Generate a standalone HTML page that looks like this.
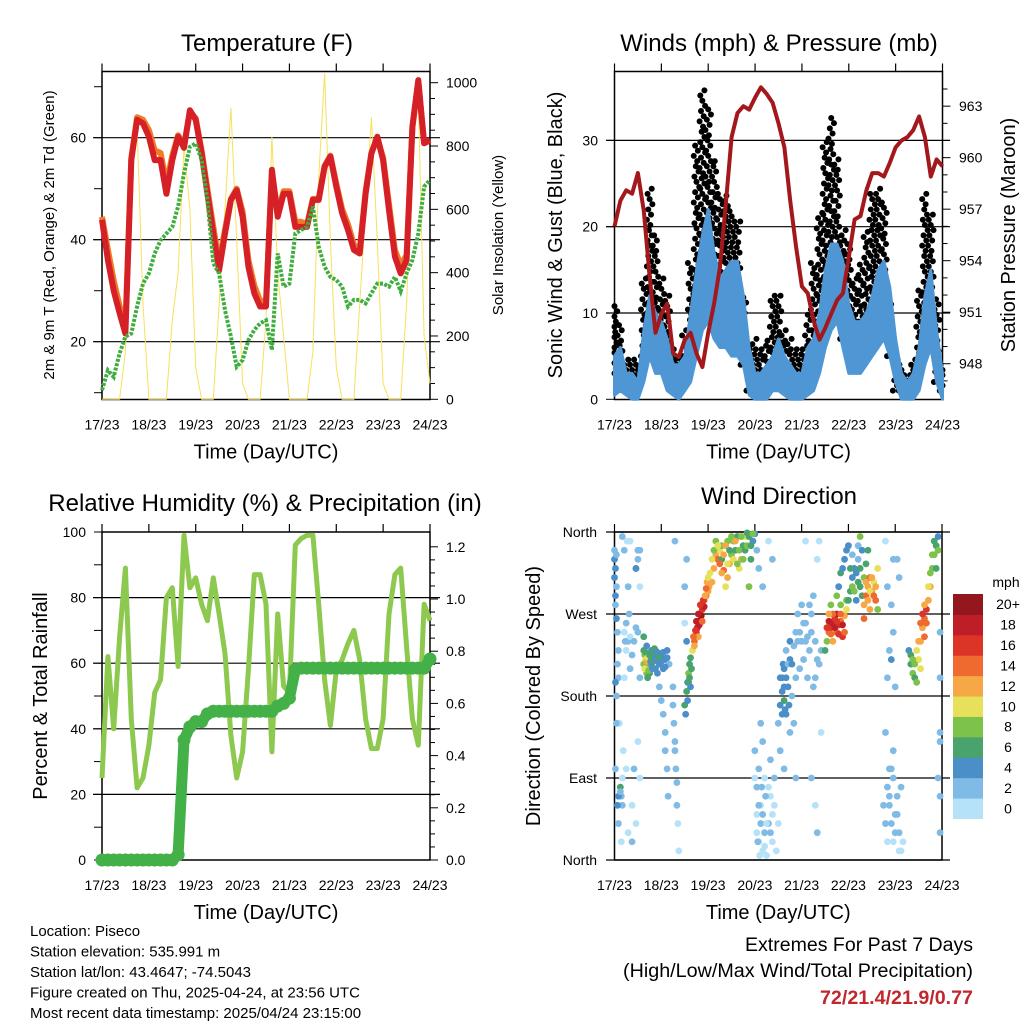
<!DOCTYPE html>
<html><head><meta charset="utf-8"><style>
html,body{margin:0;padding:0;background:#fff;}
svg{display:block;font-family:"Liberation Sans",Arial,sans-serif;}
</style></head><body>
<svg id="c" width="1024" height="1024" viewBox="0 0 1024 1024" xmlns="http://www.w3.org/2000/svg"></svg>
<script>
// ===== DATA (3-hourly, t = 0..168 h) =====
const days = ["17/23","18/23","19/23","20/23","21/23","22/23","23/23","24/23"];
const tempRed = [43.9,36,30,25.6,21.6,55.6,63.5,62.8,60.2,55.6,55.6,49,55.6,60.2,58,65.4,63.5,57,49,41.2,34,41.2,47.8,49.7,44.5,34.7,29.5,26.9,26.9,53.7,44.5,49,49,42.5,42.5,42.5,47.8,47.8,54.3,56.3,50.4,45.2,41.9,38,37.3,49,56.9,60.2,55.6,45.8,36.7,33.4,36,62.2,71.3,58.9,59.5];
const tempOrange = [44.5,38,32,27,23,56,64,63.5,61.5,57.5,57,51,56.5,60.5,58.5,65,63.8,57.5,50,42.5,35.5,42,48,50,45.5,36,31,28,28,53,45.5,49.5,49.5,43.5,43.5,43,48,48,54.5,56.5,51,46,43,39,38,49.5,57,60,56,47,38,35,37,62,71,59,59.5];
const dewGreen = [10.5,14.4,13.1,17.7,21,21.6,26.9,31.4,33.4,37.3,39.9,41.2,42.5,46.5,53,58.2,58.9,55.6,47.8,35.4,33.4,26.2,21,15.1,16.4,20.3,22.3,23.6,24.2,18.4,37.3,30.8,31.4,41.2,41.9,42.5,46.5,38.6,34.7,32.7,32.1,30.8,26.9,28.2,28.2,27.5,29.5,31.4,31.4,30.8,32.7,29.9,33.4,36,41.2,50.4,51.7];
const solar = [0,0,0,0,150,700,860,300,0,
  0,0,0,250,400,800,600,100,
  0,0,0,300,600,920,500,50,
  0,0,0,250,830,400,200,0,
  0,0,0,150,700,1030,500,100,
  0,0,0,300,600,890,500,50,
  0,0,0,300,800,950,200,50];
const pressure = [956,957.5,958.1,957.9,959.1,956.9,953.1,949.8,950.9,951.5,948.6,948.4,949.4,949.8,948.6,947.8,949.8,951.5,953.6,957.3,961.2,962.6,963,962.8,963.5,964.1,963.7,963.2,962,960.6,957.5,954.8,952.5,952.1,950.5,949.4,950.1,950.9,951.7,952.1,954.2,956.4,956.6,958.1,959.1,959.1,958.9,959.7,960.6,961,961.2,961.6,962.4,961.2,958.9,959.9,959.5];
const windHi = [5,6,3,3,2,8,12,10,9,7,4,4,5,10,15,19,22,17,14,15,16,16,12,6,3,3,4,5,7,5,4,3,3,6,7,10,15,18,18,16,11,9,9,10,12,15,16,13,7,3,2,3,6,12,15,8,3];
const windLo = [0.5,1,0.5,0,0,2,5,3,3,1,0.5,0,1,2,5,8,9,7,6,6,5,5,4,0.5,0,0,0,1,1,0.5,0,0,0,0.5,1,3,6,8,9,6,3,3,3,4,5,6,7,5,2,0,0,0,1,4,6,2,0];
const gustHi = [11,9,5,5,4,14,25,19,14,12,6,5,8,16,30,36,34,28,24,24,22,21,12,6,7,6,7,12,12,8,7,6,6,10,16,22,30,33,28,20,18,14,16,20,24,25,23,12,5,4,3,5,13,24,22,12,4];
const gustLo = [3,2,1,1,1,5,10,7,5,3,1,1,2,5,12,16,15,12,10,8,8,8,4,1,1,1,2,3,3,2,1,1,1,2,5,9,13,14,11,7,6,5,6,8,10,10,9,5,1,1,1,1,3,7,7,2,1];
const rh = [25,62,40,68,89,43,22,25,35,51,55,80,83,59,99,83,86,78,73,86,75,63,38,25,33,58,87,87,78,33,75,53,51,96,98,99,99,78,55,41,58,61,66,70,61,43,34,34,43,75,87,89,65,43,35,78,73];
const precip = [0,0,0,0,0,0,0,0,0,0,0,0,0,0.02,0.46,0.51,0.53,0.53,0.56,0.57,0.57,0.57,0.57,0.57,0.57,0.57,0.57,0.57,0.57,0.57,0.59,0.60,0.62,0.73,0.735,0.735,0.735,0.735,0.735,0.735,0.735,0.735,0.735,0.735,0.735,0.735,0.735,0.735,0.735,0.735,0.735,0.735,0.735,0.735,0.735,0.735,0.77];
// wind direction points: hour, direction (deg), speed (mph)
const dirPts = "0,340,3;0.5,320,4;1,300,3;1,265,4;1.5,250,3;2,230,3;2,200,2;2.5,150,1;3,80,6;3.5,70,3;4,60,2;4,355,2;5,340,2;5,250,1;6,230,1;6,100,1;7,30,1;7,240,3;8,210,2;8,350,1;9,60,1;9,20,2;10,100,2;11,320,3;12,330,2;13,340,2;13,300,1;11,40,1;12,250,2;13,200,3;"+
"15,230,7;15.5,225,9;16,220,11;16,210,12;16.5,205,8;17,215,10;17,200,7;17.5,225,12;18,212,9;18,205,6;15,245,6;16.5,235,5;"+
"19,215,5;20,225,6;21,230,5;21,210,4;22,220,6;23,215,5;24,225,4;25,210,5;26,220,4;27,230,4;28,215,3;19,230,4;22,205,4;"+
"30,170,2;30.5,150,2;31,130,3;31,120,2;31.5,100,2;32,85,2;32,60,2;32.5,40,1;33,10,1;30,190,2;31,350,2;"+
"36,170,6;37,185,6;37.5,195,5;38,205,8;38.5,215,7;39,222,6;37,240,4;36,300,2;37,330,2;36,260,1;"+
"40,230,10;41,240,14;42,250,16;42.5,255,18;43,262,20;43.5,258,18;44,270,17;44.5,268,20;45,275,16;46,278,18;46,285,15;47,290,14;48,295,12;48.5,300,13;41,235,12;43,245,13;"+
"50,305,12;51,320,13;52,335,12;53,330,15;54,340,10;55,345,8;56,318,14;57,300,11;58,310,13;59,325,12;60,335,9;61,350,8;62,340,7;63,355,6;64,320,10;65,330,12;66,345,7;67,355,10;68,359,7;69,300,9;70,330,6;71,350,5;72,358,4;55,330,7;58,350,9;"+
"72,120,2;73,80,2;73,50,1;74,20,1;74,100,3;75,60,1;76,10,1;77,30,2;77,90,1;78,5,1;79,40,2;80,70,1;81,20,1;82,60,1;83,10,1;73,340,2;74,320,2;76,300,2;79,350,1;81,330,2;84,40,1;75,150,3;76,130,3;"+
"84,150,3;85,170,4;86,185,4;86,200,5;87,210,4;88,230,3;88,160,4;89,190,5;90,220,5;91,180,3;92,150,3;93,200,3;94,240,2;87,175,7;85,120,3;87,100,2;90,140,3;93,90,2;95,250,2;"+
"95,210,2;96,240,2;97,220,2;98,260,2;99,200,3;100,230,2;101,250,2;102,190,2;103,60,1;104,30,2;104,330,1;101,90,2;98,350,1;103,200,3;106,230,2;105,350,1;106,140,1;"+
"108,230,6;109,240,8;110,250,14;111,255,16;112,260,18;113,265,17;114,250,15;114,270,18;115,258,16;116,262,14;117,245,16;118,268,12;119,275,10;112,240,13;116,280,9;119,285,8;"+
"120,285,7;121,295,6;122,310,5;123,320,5;124,315,4;125,330,3;126,300,7;127,290,6;128,310,8;129,325,7;130,340,6;122,335,3;125,345,3;126,355,8;"+
"128,280,13;129,290,14;130,300,12;131,310,15;132,295,13;133,305,11;134,285,14;135,320,10;131,275,12;128,265,15;"+
"140,80,2;141,60,2;142,40,2;143,20,1;144,50,2;145,70,2;146,30,2;147,10,1;141,100,3;143,120,2;145,330,2;146,310,2;139,350,1;140,300,3;142,220,4;144,190,2;143,250,2;"+
"151,230,5;152,215,7;153,205,8;154,200,6;155,195,9;156,220,10;157,240,13;158,255,12;159,265,15;160,275,16;161,285,13;162,300,12;163,320,9;164,335,8;165,345,7;166,355,5;167,250,3;167,130,2;166,90,2;167,30,2;157,210,11;159,245,14;"+
"0,330,4;0,310,5;0.5,290,5;1,335,3;0.5,280,3;1.5,215,3;0.5,195,4;1,180,2;1,150,2;0.5,100,3;1.5,60,5;2,70,4;3,75,2;2,40,2;3.5,20,1;4,90,1;4.5,120,1;5,200,1;5.5,240,2;6,260,2;6.5,350,1;7,300,2;7.5,270,2;8,245,1;9,225,2;10,240,3;11,255,3;12,130,1;13,90,1;12,340,2;11,320,4;"+
"15,215,8;15.5,210,10;16,228,7;16.5,218,13;17,222,11;17.5,208,8;18,225,6;18.5,218,5;19,222,6;19.5,210,5;20,218,7;20.5,232,6;21,220,5;22,228,5;23,222,6;24,218,4;25,228,5;26,212,4;27,222,5;"+
"23,190,3;24,175,3;25,160,2;26,140,2;26,120,2;27,100,2;27.5,70,2;"+
"38,195,7;38.5,200,6;39,190,5;39.5,210,7;37.5,175,4;36.5,160,4;"+
"40.5,245,15;41.5,252,17;42,262,19;43,270,18;44,280,16;45,262,15;45.5,285,17;46.5,290,13;47,298,14;47.5,305,12;48,310,11;49,315,10;"+
"50,330,10;51,340,8;52,350,9;53,345,11;54,325,14;55,315,12;56,335,13;57,345,12;58,325,10;59,340,7;60,355,9;61,330,11;62,350,12;63,325,8;64,340,8;65,355,9;66,330,8;67,340,7;68,345,8;69,355,7;70,345,6;71,358,8;"+
"72,90,1;73,30,1;73.5,20,2;74,60,2;74.5,5,1;75,40,2;75.5,80,2;76,50,2;77,15,1;77.5,70,2;78,40,1;79,80,1;80,30,2;80,110,2;81,50,1;82,90,2;"+
"85,200,4;86,160,4;86.5,215,4;87,190,5;87.5,165,4;88,200,4;89,215,3;89.5,170,4;90,240,4;91,215,4;92,235,3;93,250,2;94,270,2;"+
"96,280,2;97,260,2;98,240,2;99,245,2;100,280,2;101,270,2;102,290,2;103,240,2;104,220,2;105,215,2;"+
"109,255,16;110,262,18;111,248,15;112,270,15;113,255,19;114,262,17;115,248,17;116,270,14;117,258,18;118,250,15;110,270,12;111,280,9;"+
"114,290,8;115,300,5;116,315,7;117,320,4;118,330,4;119,340,4;120,345,5;121,320,7;122,300,8;123,295,8;124,285,5;125,305,6;126,320,7;127,340,4;"+
"129,305,12;130,285,13;131,295,11;132,310,12;133,290,14;134,300,13;135,275,9;"+
"138,60,2;139,40,2;140,20,1;141,70,2;142,100,2;143,90,2;144,30,2;145,50,2;146,10,1;147,80,2;148,20,1;139,140,3;140,200,3;141,230,3;142,280,2;143,330,2;"+
"152,225,6;153,220,9;154,215,8;155,230,11;156,240,12;157,260,14;158,270,16;159,280,13;160,260,15;161,300,11;162,315,8;163,335,8;164,350,6;165,320,7;166,340,9;167,200,3;167,140,2;167,70,2";
const speedColors = ["#b5e2f8","#80bbe5","#4a8fc8","#48a36d","#7dc24a","#e6e05a","#f5a845","#ef6a2e","#dc3527","#bf1e28","#93171d"];
const speedLabels = ["0","2","4","6","8","10","12","14","16","18","20+"];
const dirLabels = ["North","East","South","West","North"];

// ===== HELPERS =====
const NS="http://www.w3.org/2000/svg";
const svg=document.getElementById('c');
function mk(tag,attrs,parent){const e=document.createElementNS(NS,tag);for(const k in attrs)e.setAttribute(k,attrs[k]);(parent||svg).appendChild(e);return e;}
function txt(s,x,y,size,anchor,parent,extra){const e=mk('text',Object.assign({x:x,y:y,'font-size':size,'text-anchor':anchor||'middle',fill:'#000'},extra||{}),parent);e.textContent=s;return e;}
const T=[];for(let i=0;i<57;i++)T.push(i*3);

function panelFrame(L,R,Tp,B,name){
  const g=mk('g',{});
  
  
  mk('rect',{x:L,y:Tp,width:R-L,height:B-Tp,fill:'none',stroke:'#000','stroke-width':1.5},g);
  const xs=t=>L+t/168*(R-L);
  for(let d=0;d<8;d++){
    const x=xs(d*24);
    mk('line',{x1:x,y1:Tp-8,x2:x,y2:Tp,stroke:'#000','stroke-width':1.2},g);
    const lb=txt(days[d],x,B+30,14,'middle',g);
    
    
  }
  const xt=txt("Time (Day/UTC)",(L+R)/2,B+59,20,'middle',g);
  
  
  return {g,xs};
}
function path(pts){return pts.map((p,i)=>(i?'L':'M')+p[0].toFixed(1)+','+p[1].toFixed(1)).join('');}

// ===== PANEL 1: Temperature =====
(function(){
  const L=102,R=430,Tp=71.5,B=399.5;
  const {g,xs}=panelFrame(L,R,Tp,B,'temperature-panel');
  const ys=v=>341.7-(v-20)*5.1;
  const ysol=v=>399.3-v*0.3166;
  for(const v of [20,40,60]){mk('line',{x1:93,y1:ys(v),x2:440,y2:ys(v),stroke:'#000','stroke-width':1.2},g);
    const l=txt(String(v),86,ys(v)+5,14,'end',g);}
  for(let v=10;v<=70;v+=10)mk('line',{x1:94,y1:ys(v),x2:L,y2:ys(v),stroke:'#000'},g);
  for(let v=0;v<=1000;v+=50){const y=ysol(v);mk('line',{x1:R,y1:y,x2:R+(v%200==0?8:5),y2:y,stroke:'#000'},g);
    if(v%200==0){const l=txt(String(v),446,y+5,14,'start',g);}}
  const sl=mk('path',{d:path(T.map((t,i)=>[xs(t),ysol(solar[i])])),fill:'none',stroke:'#f7e05c','stroke-width':1},g);
  
  const o=mk('path',{d:path(T.map((t,i)=>[xs(t),ys(tempOrange[i])])),fill:'none',stroke:'#f07a28','stroke-width':6,'stroke-linejoin':'round'},g);
  
  const r=mk('path',{d:path(T.map((t,i)=>[xs(t),ys(tempRed[i])])),fill:'none',stroke:'#d42026','stroke-width':6,'stroke-linejoin':'round'},g);
  
  const d=mk('path',{d:path(T.map((t,i)=>[xs(t),ys(dewGreen[i])])),fill:'none',stroke:'#3fae3f','stroke-width':4,'stroke-dasharray':'3 1.5'},g);
  
  const tt=txt("Temperature (F)",267,51,24,'middle',g);
  const yt=txt("2m & 9m T (Red, Orange) & 2m Td (Green)",0,0,15,'middle',g,{transform:'translate(54,235) rotate(-90)'});
  const y2=txt("Solar Insolation (Yellow)",0,0,15,'middle',g,{transform:'translate(503,235) rotate(-90)'});
})();

// ===== PANEL 2: Winds & Pressure =====
(function(){
  const L=614.5,R=942.5,Tp=71.5,B=399.5;
  const {g,xs}=panelFrame(L,R,Tp,B,'winds-pressure-panel');
  const ys=v=>399.3-v*8.63;
  const yp=v=>312.2-(v-951)*17.17;
  for(const v of [10,20,30]){mk('line',{x1:606,y1:ys(v),x2:950,y2:ys(v),stroke:'#000','stroke-width':1.2},g);}
  for(const v of [0,10,20,30]){mk('line',{x1:606,y1:ys(v),x2:L,y2:ys(v),stroke:'#000'},g);
    const l=txt(String(v),598,ys(v)+5,14,'end',g);}
  for(let v=947;v<=964;v++){const y=yp(v);mk('line',{x1:R,y1:y,x2:R+((v-948)%3==0?8:5),y2:y,stroke:'#000'},g);
    if((v-948)%3==0){const l=txt(String(v),959,y+5,14,'start',g);}}
  // gust dots
  const gg=mk('g',{},g);
  const offs=[-1.4,0.7,-0.7,1.4,0,-1.05,1.05,-0.35,0.35];
  for(let i=0;i<57;i++){let k=0;for(let v=gustLo[i];v<=gustHi[i];v+=0.6){const t=Math.min(168,Math.max(0,T[i]+offs[k%9]));
    mk('circle',{cx:xs(t),cy:ys(v),r:3,fill:'#000'},gg);k++;}}
  const top=T.map((t,i)=>[xs(t),ys(windHi[i])]);const bot=T.map((t,i)=>[xs(t),ys(windLo[i])]).reverse();
  const wb=mk('path',{d:path(top.concat(bot))+'Z',fill:'#4f97d4',stroke:'#4f97d4','stroke-width':3,'stroke-linejoin':'round'},g);
  
  const pl=mk('path',{d:path(T.map((t,i)=>[xs(t),yp(pressure[i])])),fill:'none',stroke:'#a3181c','stroke-width':4,'stroke-linejoin':'round'},g);
  
  const tt=txt("Winds (mph) & Pressure (mb)",779,51,24,'middle',g);
  const yt=txt("Sonic Wind & Gust (Blue, Black)",0,0,20,'middle',g,{transform:'translate(562,235) rotate(-90)'});
  const y2=txt("Station Pressure (Maroon)",0,0,20,'middle',g,{transform:'translate(1015,235) rotate(-90)'});
})();

// ===== PANEL 3: RH & Precip =====
(function(){
  const L=102,R=430,Tp=532,B=860;
  const {g,xs}=panelFrame(L,R,Tp,B,'humidity-precip-panel');
  const ys=v=>860-v*3.28;
  const yr=v=>860-v*261;
  for(const v of [20,40,60,80]){mk('line',{x1:93,y1:ys(v),x2:440,y2:ys(v),stroke:'#000','stroke-width':1.2},g);}
  for(let v=0;v<=100;v+=10)mk('line',{x1:94,y1:ys(v),x2:L,y2:ys(v),stroke:'#000'},g);
  for(let v=0;v<=100;v+=20){const l=txt(String(v),86,ys(v)+5,14,'end',g);}
  for(let k=0;k<=24;k++){const v=k*0.05,y=yr(v);mk('line',{x1:R,y1:y,x2:R+(k%4==0?8:5),y2:y,stroke:'#000'},g);
    if(k%4==0){const l=txt(v.toFixed(1),446,y+5,14,'start',g);}}
  const rl=mk('path',{d:path(T.map((t,i)=>[xs(t),ys(rh[i])])),fill:'none',stroke:'#8dc84f','stroke-width':5,'stroke-linejoin':'round'},g);
  
  const pl=mk('path',{d:path(T.map((t,i)=>[xs(t),yr(precip[i])])),fill:'none',stroke:'#44b048','stroke-width':11,'stroke-linecap':'round','stroke-linejoin':'round'},g);
  
  T.forEach((t,i)=>{const c=mk('circle',{cx:xs(t),cy:yr(precip[i]),r:6.5,fill:'#44b048'},g);
    });
  const tt=txt("Relative Humidity (%) & Precipitation (in)",265,511,24,'middle',g);
  const yt=txt("Percent & Total Rainfall",0,0,20,'middle',g,{transform:'translate(47,696) rotate(-90)'});
})();

// ===== PANEL 4: Wind Direction =====
(function(){
  const L=614.5,R=942,Tp=532,B=860;
  const {g,xs}=panelFrame(L,R,Tp,B,'wind-direction-panel');
  const ys=v=>860-v/360*328;
  dirLabels.forEach((s,i)=>{const y=ys(i*90);mk('line',{x1:606,y1:y,x2:950,y2:y,stroke:'#000','stroke-width':1.2},g);
    const l=txt(s,597,y+5,14,'end',g);});
  const pg=mk('g',{},g);
  dirPts.split(';').forEach(s=>{const p=s.split(',').map(Number);const ci=Math.min(10,Math.floor(p[2]/2));
    mk('circle',{cx:xs(p[0]),cy:ys(p[1]),r:3.4,fill:speedColors[ci]},pg);});
  const cb=mk('g',{});
  
  
  const bh=224.5/11;
  speedColors.forEach((c,i)=>{const y=818.5-(i+1)*bh;mk('rect',{x:953,y:y,width:30,height:bh+0.5,fill:c},cb);
    const l=txt(speedLabels[i],1008,y+bh/2+5,14,'middle',cb);});
  const u=txt("mph",1006,587,14,'middle',cb);
  const tt=txt("Wind Direction",779,504,24,'middle',g);
  const yt=txt("Direction (Colored By Speed)",0,0,20,'middle',g,{transform:'translate(540,696) rotate(-90)'});
})();

// ===== FOOTER =====
(function(){
  const lines=["Location: Piseco","Station elevation: 535.991 m","Station lat/lon: 43.4647; -74.5043","Figure created on Thu, 2025-04-24, at 23:56 UTC","Most recent data timestamp: 2025/04/24 23:15:00"];
  const names=["location-text","elevation-text","latlon-text","created-text","timestamp-text"];
  lines.forEach((s,i)=>{const t=txt(s,30,936+i*20.5,15,'start');});
  const a=txt("Extremes For Past 7 Days",973,951,19,'end',null,{textLength:228,lengthAdjust:'spacingAndGlyphs'});
  const b=txt("(High/Low/Max Wind/Total Precipitation)",973,977,19,'end',null,{textLength:350,lengthAdjust:'spacingAndGlyphs'});
  const c=txt("72/21.4/21.9/0.77",973,1004,19,'end',null,{fill:'#c1272d','font-weight':'bold',textLength:153,lengthAdjust:'spacingAndGlyphs'});
})();
</script>
</body></html>
